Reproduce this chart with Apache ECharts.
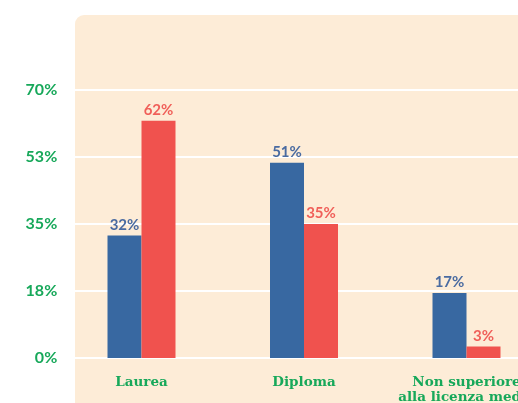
<!DOCTYPE html>
<html>
<head>
<meta charset="utf-8">
<script src="https://cdn.jsdelivr.net/npm/echarts@6/dist/echarts.min.js"></script>
<style>
  html, body { margin: 0; padding: 0; background: #fff; }
  #chart { width: 518px; height: 403px; }
</style>
</head>
<body>
<div id="chart"></div>
<script>
// dati
var categories = ["Laurea", "Diploma", "Non superiore\nalla licenza media"];
var seriesBlue = [32, 51, 17];
var seriesRed = [62, 35, 3];
var yTicks = [0, 17.5, 35, 52.5, 70];

var green = "#17a85a";
var chart = echarts.init(document.getElementById("chart"));

var option = {
  backgroundColor: "#ffffff",
  animation: false,
  graphic: [
    {
      type: "rect",
      z: -10,
      silent: true,
      shape: { x: 75, y: 15, width: 460, height: 400, r: [9, 0, 0, 0] },
      style: { fill: "#fdecd7" },
    },
  ],
  grid: {
    left: 60.25,
    width: 487.5,
    top: 90,
    bottom: 45,
    containLabel: false,
    outerBoundsMode: "none",
  },
  xAxis: {
    type: "category",
    data: categories,
    axisLine: { show: false },
    axisTick: { show: false },
    axisLabel: {
      color: green,
      fontFamily: "DejaVu Serif",
      fontWeight: "bold",
      fontSize: 13.5,
      lineHeight: 15,
      margin: 17,
      interval: 0,
    },
  },
  yAxis: {
    type: "value",
    min: yTicks[0],
    max: yTicks[yTicks.length - 1],
    interval: 17.5,
    axisLine: { show: false },
    axisTick: { show: false },
    splitLine: { lineStyle: { color: "#ffffff", width: 2 } },
    axisLabel: {
      color: green,
      fontFamily: "Lato",
      fontWeight: "bold",
      fontSize: 16,
      margin: 3,
      formatter: function (v) {
        return Math.round(v) + "%";
      },
    },
  },
  series: [
    {
      type: "bar",
      data: seriesBlue,
      barWidth: 34,
      barGap: "0%",
      itemStyle: { color: "#3868a1" },
      label: {
        show: true,
        position: "top",
        distance: 3,
        formatter: "{c}%",
        color: "#4a6ba1",
        fontFamily: "Lato",
        fontWeight: "bold",
        fontSize: 15,
      },
    },
    {
      type: "bar",
      data: seriesRed,
      barWidth: 34,
      barGap: "0%",
      itemStyle: { color: "#f0524e" },
      label: {
        show: true,
        position: "top",
        distance: 3,
        formatter: "{c}%",
        color: "#f05f59",
        fontFamily: "Lato",
        fontWeight: "bold",
        fontSize: 15,
      },
    },
  ],
};
chart.setOption(option);
</script>
</body>
</html>
